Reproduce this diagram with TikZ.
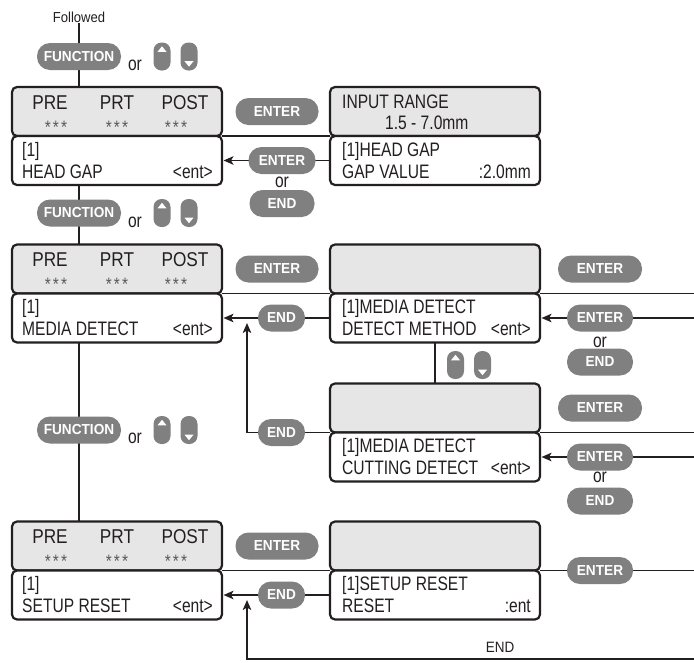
\documentclass[tikz,border=0pt]{standalone}
\usepackage{fontspec}
\setmainfont{Liberation Sans}[FakeStretch=0.8]
\newfontfamily\bigfont{Liberation Sans}[FakeStretch=0.86]
\newfontfamily\folfont{Liberation Sans}[FakeStretch=0.9]
\newfontfamily\btnfont{Liberation Sans}[FakeStretch=0.94]
\usetikzlibrary{arrows.meta,calc}
\definecolor{btngray}{HTML}{808080}
\definecolor{panelgray}{HTML}{E6E6E7}
\definecolor{ink}{HTML}{231F20}
\definecolor{stargray}{HTML}{58595B}
\pgfdeclarelayer{bg}
\pgfsetlayers{bg,main}
\tikzset{
 panelT/.style={draw=ink, line width=2.2pt, fill=panelgray, rounded corners=5pt, minimum width=210pt, minimum height=49pt, inner sep=0pt, outer sep=0pt},
 panelB/.style={panelT, fill=white},
 btn/.style={fill=btngray, text=white, rounded corners=13pt, minimum height=27pt, inner sep=0pt, font=\btnfont\bfseries\fontsize{14.5}{14.5}\selectfont},
 key/.style={fill=btngray, rounded corners=8pt, minimum width=17pt, minimum height=28pt, inner sep=0pt},
 big/.style={text=ink, inner sep=0pt, font=\bigfont\fontsize{20}{20}\selectfont, anchor=base},
 stars/.style={text=stargray, inner sep=0pt, font=\bigfont\fontsize{18}{18}\selectfont, anchor=base},
 txt/.style={text=ink, inner sep=0pt, font=\fontsize{19.5}{20}\selectfont, anchor=base west},
 txtr/.style={txt, anchor=base east},
 ortxt/.style={text=ink, inner sep=0pt, font=\fontsize{19.5}{20}\selectfont, anchor=base},
 conn/.style={draw=ink, line width=1.8pt},
 arr/.style={conn, -{Stealth[length=10pt,width=8.5pt,inset=2.5pt]}},
}
\newcommand\keyup[2]{\node[key] (#1) at (#2) {};
 \fill[white] ($(#1.north)+(0,4)$) -- ($(#1.north)+(-4.5,9.5)$) -- ($(#1.north)+(4.5,9.5)$) -- cycle;}
\newcommand\keydown[2]{\node[key] (#1) at (#2) {};
 \fill[white] ($(#1.south)+(0,-4)$) -- ($(#1.south)+(-4.5,-9.5)$) -- ($(#1.south)+(4.5,-9.5)$) -- cycle;}
\newcommand\prepanel[2]{%
 \node[panelT] (#1) at (#2) {};
 \node[big] (#1pre) at ($(#1.north west)+(38,22)$) {PRE};
 \node[big] (#1prt) at ($(#1.north west)+(105,22)$) {PRT};
 \node[big] (#1post) at ($(#1.north west)+(173,22)$) {POST};
 \node[stars] (#1sa) at ($(#1.north west)+(44,46)$) {*\kern2pt*\kern2pt*};
 \node[stars] (#1sb) at ($(#1.north west)+(105,46)$) {*\kern2pt*\kern2pt*};
 \node[stars] (#1sc) at ($(#1.north west)+(164,46)$) {*\kern2pt*\kern2pt*};}
\newcommand\infopanel[6]{%
 \node[panelB] (#1) at (#2) {};
 \node[txt] (#1a) at ($(#1.north west)+(#6,20)$) {#3};
 \node[txt] (#1b) at ($(#1.north west)+(#6,42)$) {#4};
 \node[txtr] (#1c) at ($(#1.north east)+(-9,42)$) {#5};}
\begin{document}
\begin{tikzpicture}[x=1pt,y=-1pt]
\useasboundingbox (0,0) rectangle (694,662);
% left column
\node[ortxt, font=\folfont\fontsize{14.5}{15}\selectfont, inner sep=1pt] (fol) at (79,22) {Followed};
\node[btn, minimum width=84pt] (fn1) at (79,56.5) {FUNCTION};
\node[ortxt] (or1) at (135,70) {or};
\keyup{ku1}{162,56.5}
\keydown{kd1}{189,56.5}
\prepanel{LA1}{117,111.5}
\infopanel{LA2}{117,160.5}{[1]}{HEAD GAP}{<ent>}{10}
\node[btn, minimum width=84pt] (fn2) at (79,213) {FUNCTION};
\node[ortxt] (or2) at (135,227) {or};
\keyup{ku2}{162,213}
\keydown{kd2}{189,213}
\prepanel{LB1}{117,269}
\infopanel{LB2}{117,318}{[1]}{MEDIA DETECT}{<ent>}{10}
\node[btn, minimum width=84pt] (fn3) at (79,430) {FUNCTION};
\node[ortxt] (or3) at (135,443) {or};
\keyup{ku3}{162,430}
\keydown{kd3}{189,430}
\prepanel{LC1}{117,546}
\infopanel{LC2}{117,595}{[1]}{SETUP RESET}{<ent>}{10}
% right column
\node[panelT] (RA1) at (435,111.5) {};
\node[txt] (RA1a) at ($(RA1.north west)+(12,21)$) {INPUT RANGE};
\node[txt] (RA1b) at ($(RA1.north west)+(55,42)$) {1.5 - 7.0mm};
\infopanel{RA2}{435,160.5}{[1]HEAD GAP}{GAP VALUE}{:2.0mm}{12}
\node[panelT] (RB1) at (435,269) {};
\infopanel{RB2}{435,318}{[1]MEDIA DETECT}{DETECT METHOD}{<ent>}{12}
\node[panelT] (RB3) at (435,408) {};
\infopanel{RB4}{435,457}{[1]MEDIA DETECT}{CUTTING DETECT}{<ent>}{12}
\node[panelT] (RC1) at (435,546) {};
\infopanel{RC2}{435,595}{[1]SETUP RESET}{RESET}{:ent}{12}
\keyup{kuR}{455.5,365}
\keydown{kdR}{482.5,365}
% middle buttons
\node[btn, minimum width=83pt] (enA) at (277,111.5) {ENTER};
\node[btn, minimum width=67pt] (enA2) at (282,160.5) {ENTER};
\node[ortxt] (orA) at (282,187) {or};
\node[btn, minimum width=65pt] (endA) at (282,203.5) {END};
\node[btn, minimum width=83pt] (enB) at (277,269) {ENTER};
\node[btn, minimum width=47pt] (endB) at (281.5,318) {END};
\node[btn, minimum width=47pt] (endB3) at (281.5,432.5) {END};
\node[btn, minimum width=83pt] (enC) at (277,546) {ENTER};
\node[btn, minimum width=47pt] (endC) at (281.5,595) {END};
% right buttons
\node[btn, minimum width=84pt] (enR1) at (600,269) {ENTER};
\node[btn, minimum width=66pt] (enR2) at (600,318) {ENTER};
\node[ortxt] (orR2) at (600,347) {or};
\node[btn, minimum width=66pt] (endR2) at (600,362) {END};
\node[btn, minimum width=84pt] (enR3) at (600,408) {ENTER};
\node[btn, minimum width=66pt] (enR4) at (600,457) {ENTER};
\node[ortxt] (orR4) at (600,482) {or};
\node[btn, minimum width=66pt] (endR4) at (600,501) {END};
\node[btn, minimum width=66pt] (enRC) at (600,570.5) {ENTER};
\node[ortxt, font=\folfont\fontsize{15}{15}\selectfont] (endlbl) at (500,652) {END};
% free ends
\coordinate (rb) at (694,659);
\coordinate (retA) at (247,323);
\coordinate (retB) at (247,600);
\begin{pgfonlayer}{bg}
 \draw[conn] (fol.south) -- (fol.south |- LA1.north);
 \draw[conn] (LA2.south -| fol.south) -- (LB1.north -| fol.south);
 \draw[conn] (LB2.south -| fol.south) -- (LC1.north -| fol.south);
 \draw[conn] (LA1.south east) -- (RA1.south west);
 \draw[conn] (LB1.south east) -- (RB1.south west);
 \draw[conn] (LC1.south east) -- (RC1.south west);
 \draw[arr, shorten >=1.5pt] (RA2.west) -- (RA2.west -| LA2.east);
 \draw[arr, shorten >=1.5pt] (RB2.west) -- (RB2.west -| LB2.east);
 \draw[arr, shorten >=1.5pt] (RC2.west) -- (RC2.west -| LC2.east);
 \draw[arr] (RB4.north west) -- (RB4.north west -| retA) -- (retA);
 \draw[arr] (rb) -- (rb -| retB) -- (retB);
 \draw[conn] (RB2.south) -- (RB3.north);
 \draw[conn] (RB1.south east) -- (RB1.south east -| rb);
 \draw[conn] (RB3.south east) -- (RB3.south east -| rb);
 \draw[conn] (RC1.south east) -- (RC1.south east -| rb);
 \draw[arr, shorten >=1.5pt] (RB2.east -| rb) -- (RB2.east);
 \draw[arr, shorten >=1.5pt] (RB4.east -| rb) -- (RB4.east);
\end{pgfonlayer}
\end{tikzpicture}
\end{document}
